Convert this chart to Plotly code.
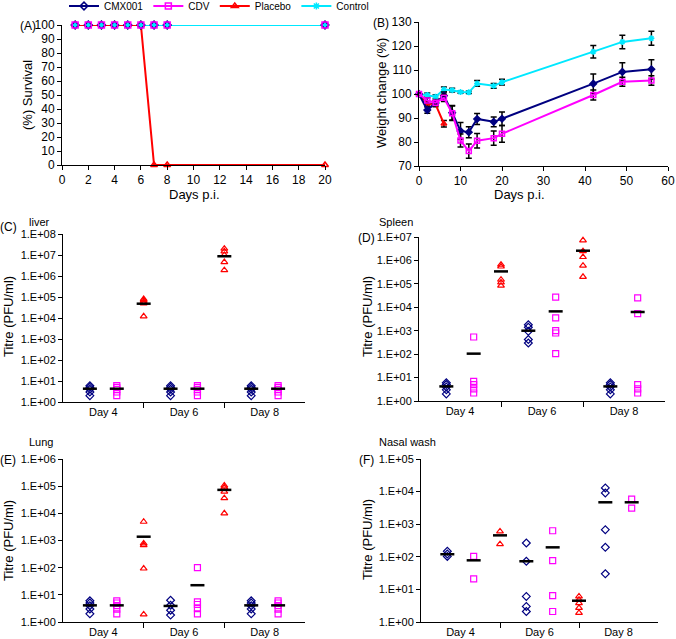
import plotly.graph_objects as go

W, H = 676, 639
FONT = "Liberation Sans"

# ---------------- colours ----------------
C_CMX = "#000080"
C_CDV = "#ff00ff"
C_PLA = "#ff0000"
C_CON = "#00e8ff"

# ---------------- Panel A: survival ----------------
surv_days = [1, 2, 3, 4, 5, 6, 7, 8, 20]
surv_cmx = [100, 100, 100, 100, 100, 100, 100, 100, 100]
surv_cdv = [100, 100, 100, 100, 100, 100, 100, 100, 100]
surv_placebo = [100, 100, 100, 100, 100, 100, 0, 0, 0]
surv_control = [100, 100, 100, 100, 100, 100, 100, 100, 100]

# ---------------- Panel B: weight change ----------------
wt_days = [0, 2, 4, 6, 8, 10, 12, 14, 18, 20, 42, 49, 56]
wt_cmx = [100, 93.3, 96.3, 99.3, 92.2, 84.6, 84.1, 89.6, 88.4, 89.7, 104.3, 109.2, 110.3]
wt_cmx_err = [0.5, 1.3, 1.0, 1.5, 3.0, 3.5, 2.3, 2.3, 2.0, 2.8, 4.0, 3.8, 4.0]
wt_cdv = [100, 97.3, 96.4, 98.4, 92.0, 80.6, 76.2, 80.5, 81.6, 83.4, 99.6, 105.1, 105.6]
wt_cdv_err = [0.5, 1.0, 1.0, 1.5, 3.0, 2.7, 3.0, 3.0, 3.0, 3.5, 2.1, 1.9, 2.0]
wt_placebo_days = [0, 2, 4, 6]
wt_placebo = [100, 96.0, 95.7, 87.6]
wt_placebo_err = [0.5, 1.0, 1.0, 1.4]
wt_control = [100, 99.6, 98.9, 101.9, 101.6, 100.8, 100.7, 104.4, 103.4, 104.9, 117.6, 121.7, 123.2]
wt_control_err = [0.5, 0.8, 0.8, 1.0, 0.8, 0.5, 0.5, 1.2, 1.0, 1.2, 2.6, 2.8, 2.9]

# ---------------- Panels C-F: titres ----------------
titre_days = ["Day 4", "Day 6", "Day 8"]

liver_cmx = [[6, 5, 4, 3, 2], [6, 5, 4, 3, 2], [6, 5, 4, 3, 2]]
liver_cdv = [[6, 5, 4, 3, 2], [6, 5, 4, 3, 2], [6, 5, 4, 3, 2]]
liver_placebo = [[8e4, 7e4, 6e4, 5e4, 1.2e4], [2e7, 1.5e7, 1e7, 4.6e6, 1.9e6]]
liver_cmx_mean = [4.3, 4.3, 4.3]
liver_cdv_mean = [4.3, 4.3, 4.3]
liver_placebo_mean = [4.8e4, 8.7e6]

spleen_cmx = [[6, 5, 4, 3, 2], [1800, 1400, 940, 420, 300], [6, 5, 4, 3, 2]]
spleen_cdv = [[540, 6.9, 5, 3.3, 2.2], [2.7e4, 3500, 1000, 800, 105], [2.5e4, 5400, 5, 3.3, 2.2]]
spleen_placebo = [[6.6e5, 5.5e5, 1.5e5, 1.15e5, 8.4e4], [7.2e6, 2.5e6, 1.4e6, 6e5, 2e5]]
spleen_cmx_mean = [4.2, 1000, 4.2]
spleen_cdv_mean = [105, 6700, 6300]
spleen_placebo_mean = [3.4e5, 2.6e6]

lung_cmx = [[6, 5, 4, 3, 2], [6.3, 4.1, 2.7, 1.8], [6, 5, 4, 3, 2]]
lung_cdv = [[6, 5, 4, 3, 2], [100, 5.5, 4.4, 3.1, 2.0], [6, 5, 4, 3, 2]]
lung_placebo = [[4900, 780, 680, 93, 1.9], [1.05e5, 9e4, 6.3e4, 3.6e4, 1e4]]
lung_cmx_mean = [4.1, 3.9, 4.1]
lung_cdv_mean = [4.1, 22.6, 4.1]
lung_placebo_mean = [1380, 7.3e4]

nasal_cmx = [[147, 122, 103], [265, 73, 6.1, 3, 2.1], [1.3e4, 9.1e3, 680, 195, 30]]
nasal_cdv = [[103, 21], [630, 76, 6.4, 2.1], [5.9e3, 3.1e3]]
nasal_placebo = [[600, 245], [6.1, 4.8, 3.8, 2.7, 1.9]]
nasal_cmx_mean = [120, 73, 4700]
nasal_cdv_mean = [78, 195, 4700]
nasal_placebo_mean = [455, 4.5]


def px(x):
    return x / W


def py(y):
    return 1 - y / H


fig = go.Figure()

base_axis = dict(showgrid=False, zeroline=False, showline=True, linecolor="black",
                 linewidth=1, ticks="outside", ticklen=4, tickcolor="black", automargin=False,
                 tickfont=dict(family=FONT, size=12, color="black"))

# ---- Panel A ----
series_A = [
    ("CMX001", surv_cmx, C_CMX, "diamond-open"),
    ("CDV", surv_cdv, C_CDV, "square-open"),
    ("Control", surv_control, C_CON, "asterisk-open"),
    ("Placebo", surv_placebo, C_PLA, "triangle-up-open"),
]
for name, ys, col, sym in series_A:
    fig.add_trace(go.Scatter(x=surv_days, y=ys, mode="lines", line=dict(color=col, width=2),
                             showlegend=False, xaxis="x", yaxis="y", cliponaxis=False))
for name, ys, col, sym in [series_A[3], series_A[2], series_A[0], series_A[1]]:
    fig.add_trace(go.Scatter(x=surv_days, y=ys, mode="markers",
                             marker=dict(symbol=sym, size=6, color=col, line=dict(color=col, width=1.5)),
                             showlegend=False, xaxis="x", yaxis="y", cliponaxis=False))

# ---- Panel B ----
series_B = [
    ("Control", wt_days, wt_control, wt_control_err, C_CON, "asterisk-open"),
    ("Placebo", wt_placebo_days, wt_placebo, wt_placebo_err, C_PLA, "triangle-up-open"),
    ("CMX001", wt_days, wt_cmx, wt_cmx_err, C_CMX, "diamond"),
    ("CDV", wt_days, wt_cdv, wt_cdv_err, C_CDV, "square-open"),
]
for name, xs, ys, err, col, sym in series_B:
    fig.add_trace(go.Scatter(
        x=xs, y=ys, mode="lines+markers", showlegend=False,
        line=dict(color=col, width=2),
        marker=dict(symbol=sym, size=5, color=col, line=dict(color=col, width=1.5)),
        error_y=dict(type="data", array=err, color="black", thickness=1.5, width=3),
        xaxis="x2", yaxis="y2", cliponaxis=False))

# legend entries (line + open marker as in the figure key)
legend_items = [("CMX001", C_CMX, "diamond-open"), ("CDV", C_CDV, "square-open"),
                ("Placebo", C_PLA, "triangle-up-open"), ("Control", C_CON, "asterisk-open")]
for name, col, sym in legend_items:
    fig.add_trace(go.Scatter(x=[None], y=[None], mode="lines+markers", name=name,
                             line=dict(color=col, width=2),
                             marker=dict(symbol=sym, size=6, color=col, line=dict(color=col, width=1.5)),
                             xaxis="x2", yaxis="y2"))


# ---- Panels C-F ----
def add_titre(ax, cmx, cdv, pla, cmx_m, cdv_m, pla_m):
    xa, ya = "x" + str(ax), "y" + str(ax)
    groups = [(cmx, cmx_m, 1, C_CMX, "diamond-open"),
              (cdv, cdv_m, 2, C_CDV, "square-open"),
              (pla, pla_m, 3, C_PLA, "triangle-up-open")]
    for vals, means, off, col, sym in groups:
        xs, ys = [], []
        for di, day_vals in enumerate(vals):
            xs += [3 * di + off] * len(day_vals)
            ys += day_vals
        fig.add_trace(go.Scatter(x=xs, y=ys, mode="markers", showlegend=False,
                                 marker=dict(symbol=sym, size=6, color=col, line=dict(color=col, width=1.2)),
                                 xaxis=xa, yaxis=ya, cliponaxis=False))
    for vals, means, off, col, sym in groups:
        fig.add_trace(go.Scatter(x=[3 * di + off for di in range(len(means))], y=means,
                                 mode="markers", showlegend=False,
                                 marker=dict(symbol="line-ew", size=10, color="black",
                                             line=dict(color="black", width=2.5)),
                                 xaxis=xa, yaxis=ya, cliponaxis=False))


add_titre(3, liver_cmx, liver_cdv, liver_placebo, liver_cmx_mean, liver_cdv_mean, liver_placebo_mean)
add_titre(4, spleen_cmx, spleen_cdv, spleen_placebo, spleen_cmx_mean, spleen_cdv_mean, spleen_placebo_mean)
add_titre(5, lung_cmx, lung_cdv, lung_placebo, lung_cmx_mean, lung_cdv_mean, lung_placebo_mean)
add_titre(6, nasal_cmx, nasal_cdv, nasal_placebo, nasal_cmx_mean, nasal_cdv_mean, nasal_placebo_mean)


def cat_xaxis(x0, x1):
    d = dict(base_axis)
    d.update(domain=[px(x0), px(x1)], range=[0, 9], tickmode="array",
             tickvals=[1.5, 4.5, 7.5], ticktext=titre_days, ticks="",
             tickfont=dict(family=FONT, size=11, color="black"),
             minor=dict(tickmode="array", tickvals=[3, 6], ticks="outside", ticklen=5,
                        tickcolor="black", showgrid=False))
    return d


def log_yaxis(y0, y1, dec):
    d = dict(base_axis)
    d.update(domain=[py(y1), py(y0)], type="log", range=[0, dec], tickmode="array",
             tickvals=[10 ** k for k in range(dec + 1)],
             ticktext=["1.E+%02d" % k for k in range(dec + 1)],
             tickfont=dict(family=FONT, size=11, color="black"))
    return d


xA = dict(base_axis); xA.update(domain=[px(62), px(325)], range=[0, 20], dtick=2, tick0=0)
yA = dict(base_axis); yA.update(domain=[py(165), py(25)], range=[0, 100], dtick=10, tick0=0)
xB = dict(base_axis); xB.update(domain=[px(419), px(668)], range=[0, 60], dtick=10, tick0=0)
yB = dict(base_axis); yB.update(domain=[py(166), py(22)], range=[70, 130], dtick=10, tick0=70)

layout_axes = dict(
    xaxis=dict(xA, anchor="y"), yaxis=dict(yA, anchor="x"),
    xaxis2=dict(xB, anchor="y2"), yaxis2=dict(yB, anchor="x2"),
    xaxis3=dict(cat_xaxis(63, 305), anchor="y3"), yaxis3=dict(log_yaxis(234, 402, 8), anchor="x3"),
    xaxis4=dict(cat_xaxis(419, 665), anchor="y4"), yaxis4=dict(log_yaxis(237, 401, 7), anchor="x4"),
    xaxis5=dict(cat_xaxis(63, 305), anchor="y5"), yaxis5=dict(log_yaxis(459, 622, 6), anchor="x5"),
    xaxis6=dict(cat_xaxis(421, 658), anchor="y6"), yaxis6=dict(log_yaxis(459, 622, 5), anchor="x6"),
)

annots = []


def ann(text, x, y, size=13, angle=0, xanchor="center"):
    annots.append(dict(text=text, x=px(x), y=py(y), xref="paper", yref="paper",
                       showarrow=False, textangle=angle, xanchor=xanchor, yanchor="middle",
                       font=dict(family=FONT, size=size, color="black")))


ann("(A)", 28, 26, 12)
ann("(B)", 381, 23, 12)
ann("(%) Survival", 27, 95, 13, -90)
ann("Weight change (%)", 381, 93, 13, -90)
ann("Days p.i.", 194, 195, 13)
ann("Days p.i.", 519, 195, 13)
ann("liver", 27, 222, 11, xanchor="left")
ann("(C)", 8, 227, 12)
ann("Spleen", 377, 222, 11, xanchor="left")
ann("(D)", 366, 238, 12)
ann("Lung", 27, 442, 11, xanchor="left")
ann("(E)", 8, 460, 12)
ann("Nasal wash", 377, 442, 11, xanchor="left")
ann("(F)", 366, 460, 12)
ann("Titre (PFU/ml)", 8, 317, 13, -90)
ann("Titre (PFU/ml)", 367, 317, 13, -90)
ann("Titre (PFU/ml)", 8, 541, 13, -90)
ann("Titre (PFU/ml)", 367, 540, 13, -90)

fig.update_layout(
    width=W, height=H, margin=dict(l=0, r=0, t=0, b=0, pad=0, autoexpand=False),
    paper_bgcolor="white", plot_bgcolor="white",
    font=dict(family=FONT, size=12, color="black"),
    showlegend=True,
    legend=dict(orientation="h", x=px(64), xanchor="left", y=py(6), yanchor="middle",
                font=dict(family=FONT, size=10, color="black"), bgcolor="rgba(0,0,0,0)",
                itemwidth=30, tracegroupgap=0),
    annotations=annots,
    **layout_axes,
)

fig.write_html("out.html", config={"displayModeBar": False},
               post_script="document.body.style.margin='0px';document.body.style.overflow='hidden';")
